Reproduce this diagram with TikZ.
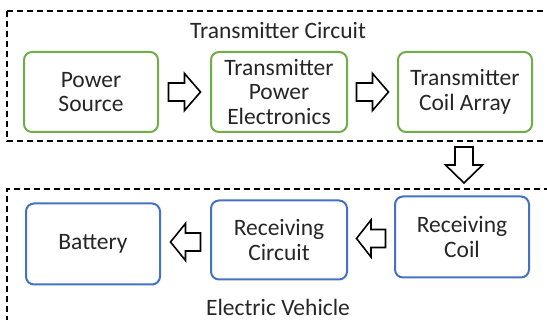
\documentclass[tikz,border=0pt]{standalone}
\usepackage{fontspec}
\setmainfont{Carlito}
\usetikzlibrary{calc}
\definecolor{tgreen}{HTML}{70AD47}
\definecolor{rblue}{HTML}{4472C4}
\definecolor{txt}{HTML}{262626}
\tikzset{
  blk/.style={rounded corners=8pt, line width=2pt, fill=white, text=txt, align=center,
    font=\fontsize{23.5}{24.5}\selectfont, inner sep=0pt},
  tbox/.style={blk, draw=tgreen},
  rbox/.style={blk, draw=rblue},
  grp/.style={draw=black, line width=1.2pt, dash pattern=on 6pt off 4pt},
  lbl/.style={text=txt, font=\fontsize{23.5}{24.5}\selectfont, inner sep=0pt},
  barrow/.style={draw=black, fill=white, line width=1.6pt, line join=miter}
}
% block arrow pointing along +x, centred at the origin of the current frame
\newcommand{\blockarrow}[3]{% #1 centre coordinate, #2 rotation, #3 length
  \draw[barrow, shift={(#1)}, rotate=#2]
    ({-#3/2},-9) -- (0,-9) -- (0,-18.5) -- ({#3/2},0) -- (0,18.5) -- (0,9) -- ({-#3/2},9) -- cycle;}
\begin{document}
\begin{tikzpicture}[x=1pt,y=-1pt]
\useasboundingbox (0,0) rectangle (547,320);
\clip (0,0) rectangle (547,320);
% group frames
\draw[grp] (7,11) -- (580,11) (7,11) -- (7,141) -- (580,141);
\draw[grp] (580,189) -- (7,189) -- (7,340);
\node[lbl] (tc) at (278,31) {Transmitter Circuit};
\node[lbl] (ev) at (278,307) {Electric Vehicle};
% transmitter boxes
\node[tbox, minimum width=134pt, minimum height=80pt] (ps) at (91,92) {Power\\Source};
\node[tbox, minimum width=136pt, minimum height=80pt] (tpe) at (279,92) {Transmitter\\Power\\Electronics};
\node[tbox, minimum width=134pt, minimum height=80pt] (tca) at (465,92) {Transmitter\\Coil Array};
% receiver boxes
\node[rbox, minimum width=134pt, minimum height=81pt] (rc) at (462,237) {Receiving\\Coil};
\node[rbox, minimum width=136pt, minimum height=79pt] (rcir) at (279,240) {Receiving\\Circuit};
\node[rbox, minimum width=134pt, minimum height=81pt] (bat) at (93,244) {Battery};
% block arrows
\coordinate (a1) at ($(ps.east)!0.5!(tpe.west)$);
\coordinate (a2) at ($(tpe.east)!0.5!(tca.west)$);
\coordinate (a3) at (464,165);
\coordinate (a4) at ($(rc.west)!0.5!(rcir.east)$);
\coordinate (a5) at ($(rcir.west)!0.5!(bat.east)$);
\blockarrow{a1}{0}{32}
\blockarrow{a2}{0}{32}
\blockarrow{a3}{270}{36}
\blockarrow{a4}{180}{29}
\blockarrow{a5}{180}{30}
\end{tikzpicture}
\end{document}
